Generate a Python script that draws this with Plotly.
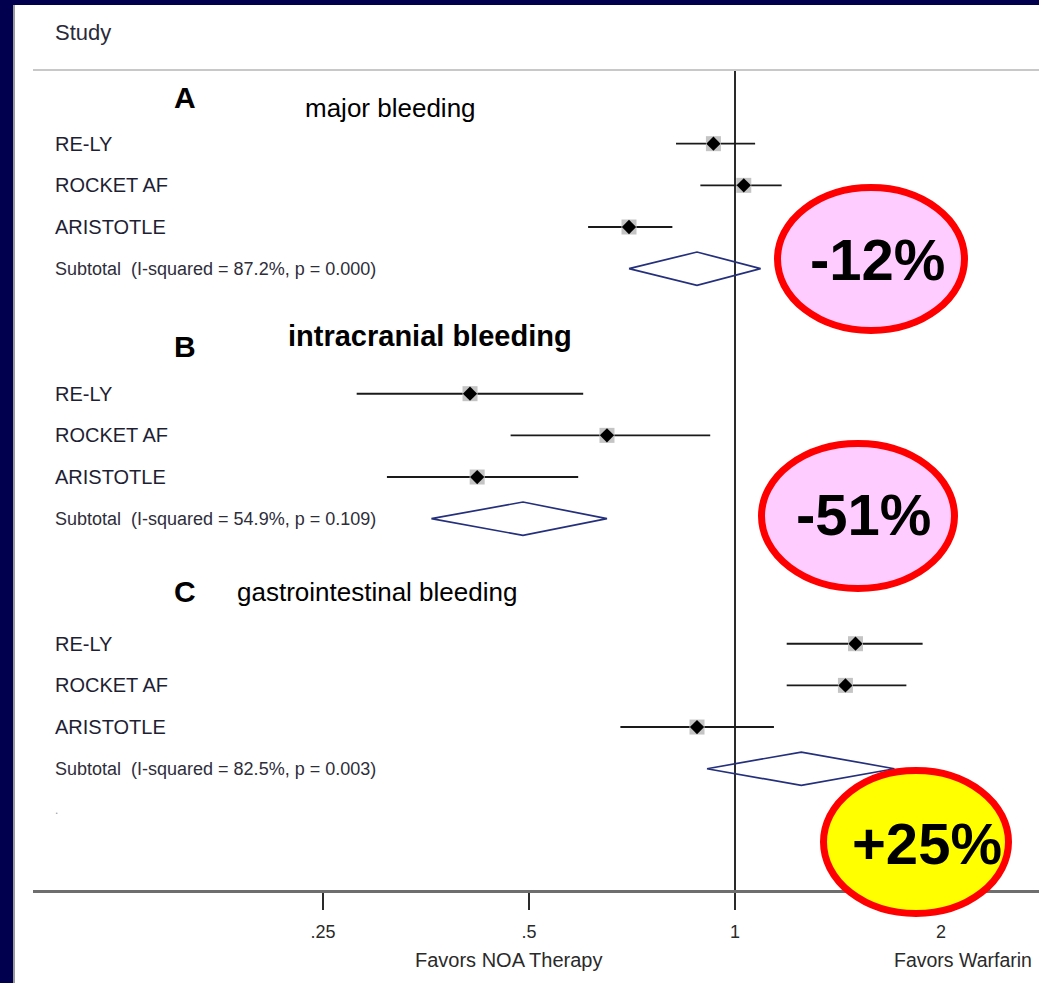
import math
import plotly.graph_objects as go

# ---------------- data ----------------
group_letters = ["A", "B", "C"]
group_titles = ["major bleeding", "intracranial bleeding", "gastrointestinal bleeding"]
group_title_bold = [False, True, False]
studies = ["RE-LY", "ROCKET AF", "ARISTOTLE"]

# risk ratios (point, lower CI, upper CI) per study, per group
rr_major = [0.93, 1.03, 0.70]
lo_major = [0.82, 0.89, 0.61]
hi_major = [1.07, 1.17, 0.81]

rr_ich = [0.41, 0.65, 0.42]
lo_ich = [0.28, 0.47, 0.31]
hi_ich = [0.60, 0.92, 0.59]

rr_gi = [1.50, 1.45, 0.88]
lo_gi = [1.19, 1.19, 0.68]
hi_gi = [1.88, 1.78, 1.14]

# pooled subtotal estimates
sub_est = [0.88, 0.49, 1.25]
sub_lo = [0.70, 0.36, 0.91]
sub_hi = [1.09, 0.65, 1.71]
sub_i2 = [87.2, 54.9, 82.5]
sub_p = [0.000, 0.109, 0.003]

badge_labels = ["-12%", "-51%", "+25%"]
badge_fills = ["#ffccff", "#ffccff", "#ffff00"]

tick_vals = [0.25, 0.5, 1, 2]
tick_text = [".25", ".5", "1", "2"]
left_label = "Favors NOA Therapy"
right_label = "Favors Warfarin"

# ---------------- layout geometry ----------------
W, H = 1039, 983
ML, MR, MT, MB = 33, 0, 70, 93
PW, PH = W - ML - MR, H - MT - MB
ROW0_PX, ROW_STEP = 102.0, 41.67      # pixel y of row 0 and row spacing
PX_PER_DEC = 206 / math.log10(2)       # pixels per decade on the log axis
X1_PX = 735                            # pixel x of RR = 1

def px(x):
    return (x - ML) / PW

def py(y):
    return (H - MB - y) / PH

x_range = [(ML - X1_PX) / PX_PER_DEC, (W - MR - X1_PX) / PX_PER_DEC]
y_top = (MT - ROW0_PX) / ROW_STEP
y_bot = (H - MB - ROW0_PX) / ROW_STEP

FONT = "Liberation Sans, Arial, sans-serif"

groups = [
    (rr_major, lo_major, hi_major),
    (rr_ich, lo_ich, hi_ich),
    (rr_gi, lo_gi, hi_gi),
]

fig = go.Figure()

# reference line at RR = 1
fig.add_trace(go.Scatter(x=[1, 1], y=[y_top, y_bot], mode="lines",
                         line=dict(color="#2a2a2a", width=2), hoverinfo="skip",
                         showlegend=False))

ci_x, ci_y, pt_x, pt_y = [], [], [], []
dia_x, dia_y = [], []
for g, (rr, lo, hi) in enumerate(groups):
    base = 6 * g
    for i in range(3):
        k = base + 1 + i
        ci_x += [lo[i], hi[i], None]
        ci_y += [k, k, None]
        pt_x.append(rr[i])
        pt_y.append(k)
    k = base + 4
    h = 0.4
    dia_x += [sub_lo[g], sub_est[g], sub_hi[g], sub_est[g], sub_lo[g], None]
    dia_y += [k, k - h, k, k + h, k, None]

fig.add_trace(go.Scatter(x=ci_x, y=ci_y, mode="lines",
                         line=dict(color="#1a1a1a", width=1.9), hoverinfo="skip",
                         showlegend=False))
fig.add_trace(go.Scatter(x=pt_x, y=pt_y, mode="markers",
                         marker=dict(symbol="square", size=15, color="#c4c4c4"),
                         hoverinfo="skip", showlegend=False))
fig.add_trace(go.Scatter(x=pt_x, y=pt_y, mode="markers",
                         marker=dict(symbol="diamond", size=11, color="#000000"),
                         hoverinfo="skip", showlegend=False))
fig.add_trace(go.Scatter(x=dia_x, y=dia_y, mode="lines",
                         line=dict(color="#25307c", width=1.7), hoverinfo="skip",
                         showlegend=False))

annotations = []
shapes = []

# navy frame on left and top
NAVY = "#00004f"
shapes.append(dict(type="rect", xref="paper", yref="paper", x0=px(0), x1=px(13),
                   y0=py(H), y1=py(0), fillcolor=NAVY, line=dict(width=0), layer="above"))
shapes.append(dict(type="rect", xref="paper", yref="paper", x0=px(0), x1=px(W),
                   y0=py(5), y1=py(0), fillcolor=NAVY, line=dict(width=0), layer="above"))
shapes.append(dict(type="line", xref="paper", yref="paper", x0=px(14), x1=px(14),
                   y0=py(H), y1=py(5), line=dict(color="#9a9a9a", width=2), layer="above"))

# header separator line
shapes.append(dict(type="line", xref="paper", yref="paper", x0=0, x1=1,
                   y0=1, y1=1, line=dict(color="#c8c8c8", width=2)))

annotations.append(dict(text="Study", xref="paper", yref="paper", x=px(53), y=py(33),
                        xanchor="left", yanchor="middle", showarrow=False,
                        font=dict(family=FONT, size=22, color="#2a2a3a")))

letter_px_y = [97, 346, 591]
title_px = [(303, 108), (286, 336), (235, 592)]
for g in range(3):
    base = 6 * g
    annotations.append(dict(text="<b>%s</b>" % group_letters[g], xref="paper", yref="paper",
                            x=px(185), y=py(letter_px_y[g]), xanchor="center", yanchor="middle",
                            showarrow=False, font=dict(family=FONT, size=30, color="#000000")))
    t = group_titles[g]
    if group_title_bold[g]:
        t = "<b>%s</b>" % t
    annotations.append(dict(text=t, xref="paper", yref="paper",
                            x=px(title_px[g][0]), y=py(title_px[g][1]), xanchor="left",
                            yanchor="middle", showarrow=False,
                            font=dict(family=FONT, size=29 if group_title_bold[g] else 26,
                                      color="#000000")))
    for i, s in enumerate(studies):
        annotations.append(dict(text=s, xref="paper", yref="y", x=px(53), y=base + 1 + i,
                                xanchor="left", yanchor="middle", showarrow=False,
                                font=dict(family=FONT, size=20, color="#1e1e34")))
    sub = "Subtotal\u00a0 (I-squared = %.1f%%, p = %.3f)" % (sub_i2[g], sub_p[g])
    annotations.append(dict(text=sub, xref="paper", yref="y", x=px(53), y=base + 4,
                            xanchor="left", yanchor="middle", showarrow=False,
                            font=dict(family=FONT, size=18, color="#2e2e3a")))

annotations.append(dict(text=".", xref="paper", yref="y", x=px(53), y=17,
                        xanchor="left", yanchor="middle", showarrow=False,
                        font=dict(family=FONT, size=12, color="#999999")))

# badges
badge_geo = [(871, 259, 97, 75), (858, 516, 100, 76), (916, 842, 96, 75)]
badge_text_px = [(877, 259), (863, 514), (927, 843)]
for b in range(3):
    cx, cy, rx, ry = badge_geo[b]
    shapes.append(dict(type="circle", xref="paper", yref="paper",
                       x0=px(cx - rx + 3.5), x1=px(cx + rx - 3.5),
                       y0=py(cy + ry - 3.5), y1=py(cy - ry + 3.5),
                       fillcolor=badge_fills[b], line=dict(color="#ff0000", width=7),
                       layer="above"))
    tx, ty = badge_text_px[b]
    annotations.append(dict(text="<b>%s</b>" % badge_labels[b], xref="paper", yref="paper",
                            x=px(tx), y=py(ty), xanchor="center", yanchor="middle",
                            showarrow=False,
                            font=dict(family=FONT, size=58, color="#000000")))

annotations.append(dict(text=left_label, xref="paper", yref="paper", x=px(508), y=py(960),
                        xanchor="center", yanchor="middle", showarrow=False,
                        font=dict(family=FONT, size=20, color="#2a2a2a")))
annotations.append(dict(text=right_label, xref="paper", yref="paper", x=px(892), y=py(960),
                        xanchor="left", yanchor="middle", showarrow=False,
                        font=dict(family=FONT, size=19.5, color="#2a2a2a")))

fig.update_layout(
    width=W, height=H,
    margin=dict(l=ML, r=MR, t=MT, b=MB, pad=0),
    paper_bgcolor="#ffffff", plot_bgcolor="#ffffff",
    showlegend=False,
    shapes=shapes, annotations=annotations,
    xaxis=dict(type="log", range=x_range, tickvals=tick_vals, ticktext=tick_text,
               showgrid=False, zeroline=False, showline=True, linecolor="#6e6e6e",
               linewidth=2.5, ticks="outside", ticklen=17, tickwidth=1.6,
               tickcolor="#2a2a2a", ticklabelstandoff=7,
               tickfont=dict(family=FONT, size=18, color="#2a2a2a"), fixedrange=True),
    yaxis=dict(range=[y_bot, y_top], showgrid=False, zeroline=False, showline=False,
               showticklabels=False, ticks="", fixedrange=True),
)

fig.write_html("out.html",
               config={"displayModeBar": False, "staticPlot": True},
               post_script=["document.body.style.margin='0';document.body.style.overflow='hidden';"])
